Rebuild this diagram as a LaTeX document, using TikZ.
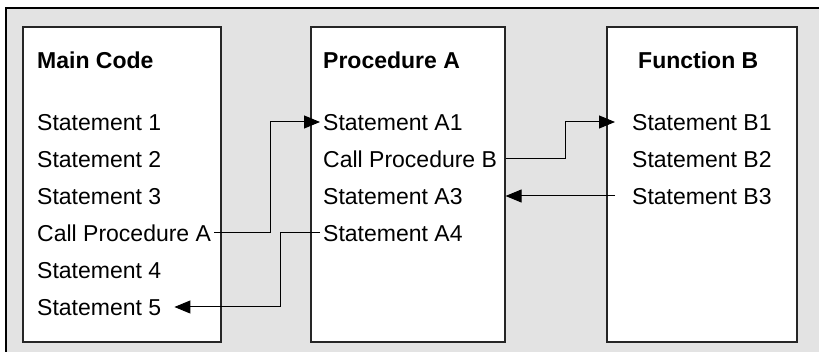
\documentclass[tikz,border=0pt]{standalone}
\usepackage{fontspec}
\setmainfont{Liberation Sans}
\usetikzlibrary{arrows.meta}
\begin{document}
\begin{tikzpicture}[x=1pt,y=-1pt,
    codeBox/.style={rectangle,draw=black!85,line width=1.2pt,fill=white,minimum height=315pt,inner sep=0pt},
    codeTitle/.style={anchor=west,font=\fontsize{23}{27}\selectfont\bfseries,inner xsep=3pt,inner ysep=0pt,text height=17pt,text depth=0pt},
    codeLine/.style={anchor=west,font=\fontsize{23}{27}\selectfont,inner xsep=3pt,inner ysep=0pt,text height=17pt,text depth=0pt},
    callArrow/.style={-{Triangle[length=16pt,width=13pt]},line width=1pt},
]
\useasboundingbox (0,0) rectangle (819,352);
\fill[black!11] (6,8) rectangle (819,352);
\draw[line width=1.5pt] (6,352) -- (6,8) -- (819,8);
% the three blocks
\node[codeBox,minimum width=198pt] (mainBox) at (122,184.5) {};
\node[codeBox,minimum width=194pt] (procA) at (408,184.5) {};
\node[codeBox,minimum width=190pt] (funcB) at (702,184.5) {};
\node[codeTitle] (mainTitle) at (34,60) {Main Code};
\node[codeTitle] (procTitle) at (320,60) {Procedure A};
\node[codeTitle] (funcTitle) at (635,60) {Function B};
% main code
\node[codeLine] (s1) at (34,122) {Statement 1};
\node[codeLine] (s2) at (34,159) {Statement 2};
\node[codeLine] (s3) at (34,196) {Statement 3};
\node[codeLine] (callA) at (34,233) {Call Procedure A};
\node[codeLine] (s4) at (34,270) {Statement 4};
\node[codeLine] (s5) at (34,307) {Statement 5};
% procedure A
\node[codeLine] (a1) at (320,122) {Statement A1};
\node[codeLine] (callB) at (320,159) {Call Procedure B};
\node[codeLine] (a3) at (320,196) {Statement A3};
\node[codeLine] (a4) at (320,233) {Statement A4};
% function B
\node[codeLine] (b1) at (629,122) {Statement B1};
\node[codeLine] (b2) at (629,159) {Statement B2};
\node[codeLine] (b3) at (629,196) {Statement B3};
% calls and returns
\coordinate (jogCall) at (270,0);
\coordinate (jogBack) at (280,0);
\coordinate (jogB) at (565,0);
\draw[callArrow] (callA.east) -- (callA.east -| jogCall) |- (a1.west);
\draw[callArrow] (a4.west) -- (a4.west -| jogBack) |- ([xshift=10pt]s5.east);
\draw[callArrow] (procA.east |- callB) -- (callB -| jogB) |- ([xshift=-14pt]b1.west);
\draw[callArrow] ([xshift=-14pt]b3.west) -- (procA.east |- a3);
\end{tikzpicture}
\end{document}
